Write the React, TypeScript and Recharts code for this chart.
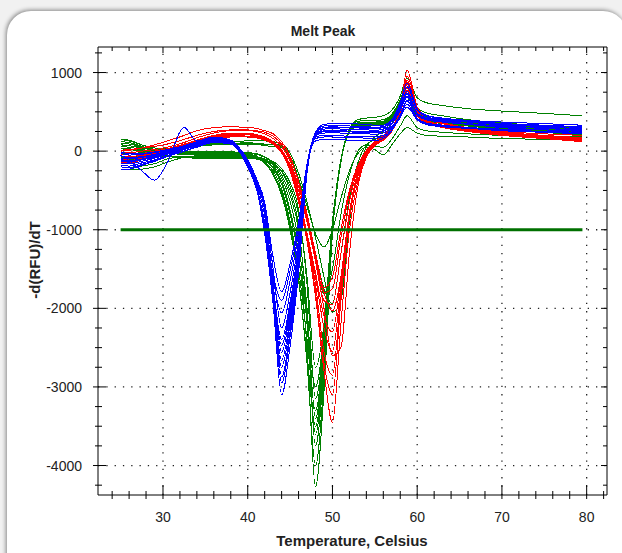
import React from 'react';
import { LineChart, Line, XAxis, YAxis, ReferenceLine } from 'recharts';

const TEMPS = [25, 26, 27.5, 29, 30.5, 32.5, 34, 36, 38, 40, 41, 42, 43, 44, 45, 46, 47, 48, 49, 50, 51, 52, 53, 54, 55, 56, 57, 58, 58.8, 60, 61, 63, 66, 70, 75, 79.5];

const BLUE_CURVES = [
  [-120, -130, -100, -60, -20, 40, 90, 150, 110, -200, -460, -1050, -1950, -3100, -2480, -1550, -280, 230, 320, 330, 330, 320, 310, 305, 300, 310, 390, 560, 760, 470, 420, 400, 370, 330, 290, 260],
  [-60, -80, -70, -40, 0, 60, 110, 170, 130, -160, -430, -1030, -1900, -2950, -2360, -1470, -260, 200, 280, 290, 280, 275, 270, 270, 265, 280, 380, 600, 820, 520, 450, 420, 390, 350, 320, 300],
  [-200, -210, -170, -120, -60, 20, 80, 140, 120, -130, -380, -750, -1700, -2870, -2300, -1430, -250, 240, 340, 350, 355, 350, 345, 340, 330, 330, 400, 540, 700, 480, 430, 410, 390, 370, 350, 330],
  [-30, -50, -40, -20, 10, 60, 100, 160, 110, -190, -450, -1010, -1850, -2750, -2200, -1380, -240, 180, 200, 200, 195, 190, 190, 185, 185, 200, 290, 460, 650, 420, 360, 330, 300, 270, 240, 220],
  [-150, -160, -130, -90, -40, 20, 70, 130, 100, -180, -440, -1000, -1820, -2660, -2130, -1330, -230, 220, 300, 310, 305, 300, 300, 295, 290, 300, 400, 620, 870, 540, 460, 420, 380, 340, 310, 280],
  [-90, -100, -80, -50, -10, 50, 100, 150, 120, -140, -400, -820, -1700, -2560, -2050, -1280, -220, 200, 250, 255, 250, 245, 240, 240, 235, 250, 340, 520, 720, 460, 400, 370, 340, 300, 270, 250],
  [-240, -230, -180, -130, -70, 0, 60, 120, 90, -200, -470, -980, -1760, -2470, -1980, -1240, -210, 160, 180, 180, 175, 170, 170, 165, 165, 180, 270, 430, 600, 400, 340, 310, 290, 260, 240, 230],
  [-10, -30, -30, -10, 20, 70, 120, 180, 140, -150, -420, -970, -1730, -2400, -1920, -1200, -200, 230, 320, 330, 325, 320, 315, 310, 305, 310, 390, 530, 680, 470, 420, 390, 370, 350, 330, 310],
  [-110, -120, -100, -70, -30, 30, 80, 140, 110, -120, -360, -700, -1500, -2250, -1800, -1130, -190, 210, 260, 265, 260, 255, 250, 250, 245, 260, 350, 540, 740, 480, 410, 380, 350, 310, 290, 270],
  [-180, -190, -150, -110, -60, 0, 50, 110, 90, -190, -460, -930, -1630, -2060, -1650, -1030, -180, 130, 150, 150, 145, 140, 140, 135, 135, 160, 260, 440, 640, 400, 340, 310, 290, 270, 250, 240],
  [-50, -120, -250, -370, -150, 300, 130, 160, 120, -170, -440, -910, -1580, -1900, -1520, -950, -170, 200, 230, 235, 230, 225, 220, 220, 215, 230, 310, 440, 560, 400, 350, 320, 300, 280, 270, 260],
  [-130, -140, -110, -80, -40, 20, 80, 140, 110, -110, -340, -650, -1350, -1790, -1430, -900, -160, 230, 300, 305, 300, 300, 295, 290, 285, 300, 380, 530, 700, 470, 410, 380, 350, 320, 300, 290],
];

const GREEN_CURVES = [
  [150, 140, 80, 20, -10, -20, -20, -20, -20, -30, -40, -80, -150, -250, -450, -800, -1600, -2750, -2200, -890, -100, 280, 400, 420, 430, 450, 520, 700, 930, 680, 620, 580, 540, 510, 480, 450],
  [100, 90, 50, 0, -20, -30, -40, -40, -40, -50, -70, -120, -220, -420, -800, -1350, -2150, -3000, -2300, -900, -100, 270, 360, 370, 370, 380, 450, 620, 800, 520, 460, 420, 380, 340, 300, 270],
  [-200, -210, -190, -160, -100, -70, -70, -70, -70, -70, -80, -100, -130, -220, -400, -750, -1700, -3150, -2400, -920, -110, 250, 330, 340, 340, 350, 420, 580, 720, 460, 400, 360, 320, 280, 240, 210],
  [30, 20, 0, -20, -30, -40, -50, -50, -50, -60, -80, -140, -250, -480, -900, -1500, -2400, -3300, -2450, -940, -110, 260, 350, 360, 360, 370, 440, 610, 780, 500, 440, 400, 360, 320, 280, 250],
  [-100, -110, -80, -60, -70, -80, -90, -90, -90, -90, -100, -120, -160, -300, -560, -1000, -2000, -3400, -2500, -960, -120, 240, 320, 330, 330, 340, 410, 570, 700, 460, 400, 360, 320, 280, 240, 200],
  [60, 50, 20, 0, -10, -20, -30, -30, -30, -40, -60, -150, -300, -560, -1000, -1650, -2600, -3500, -2600, -980, -120, 270, 380, 390, 390, 400, 470, 650, 860, 560, 490, 450, 400, 360, 320, 290],
  [-230, -240, -230, -200, -140, -80, -60, -60, -60, -60, -70, -100, -180, -340, -640, -1150, -2200, -3600, -2650, -990, -120, 250, 340, 350, 350, 360, 430, 590, 740, 480, 420, 380, 340, 300, 260, 230],
  [120, 110, 60, 10, -10, -10, -10, -10, -10, -20, -30, -70, -140, -260, -500, -950, -2100, -3750, -2750, -1000, -130, 260, 360, 370, 370, 380, 450, 600, 760, 490, 430, 390, 350, 310, 280, 260],
  [-60, -70, -60, -50, -60, -70, -80, -80, -80, -80, -90, -150, -280, -520, -950, -1600, -2700, -4000, -2900, -1020, -130, 250, 340, 350, 350, 360, 430, 590, 720, 470, 410, 370, 330, 290, 250, 220],
  [40, 30, 10, -10, -30, -40, -50, -50, -50, -50, -70, -110, -200, -380, -750, -1300, -2500, -4270, -3050, -1050, -140, 240, 330, 340, 340, 350, 410, 560, 680, 450, 390, 350, 320, 280, 240, 210],
  [80, 70, 40, 20, 30, 50, 70, 90, 100, 100, 90, 70, 60, 50, -100, -350, -700, -1050, -1220, -1000, -600, -250, -30, 50, 20, -50, 80, 220, 300, 230, 200, 190, 180, 160, 150, 130],
  [-20, -30, -20, 0, 20, 50, 80, 110, 120, 110, 100, 90, 80, 60, -80, -400, -850, -1400, -1820, -1500, -800, -300, 0, 80, 60, 50, 150, 320, 450, 300, 260, 240, 220, 200, 190, 180],
  [150, 130, 80, 40, 30, 40, 60, 80, 90, 90, 90, 90, 90, 70, -60, -350, -800, -1300, -1750, -1940, -1300, -600, -150, 80, 150, 200, 300, 500, 700, 420, 360, 330, 300, 280, 260, 250],
  [-80, -90, -60, -30, 0, 30, 60, 100, 120, 130, 130, 130, 120, 100, -30, -280, -650, -1100, -1600, -2050, -1900, -900, -250, 50, 180, 250, 350, 550, 800, 460, 400, 360, 330, 300, 280, 260],
];

const RED_CURVES = [
  [-100, -100, -70, -40, 0, 60, 120, 180, 200, 190, 170, 140, 90, -20, -250, -650, -1150, -1850, -2800, -3450, -2200, -1000, -380, -60, 80, 150, 260, 520, 1030, 560, 430, 360, 300, 250, 220, 200],
  [-40, -50, -30, 0, 30, 90, 140, 200, 220, 210, 190, 160, 110, 10, -200, -600, -1100, -1800, -2700, -3100, -1900, -850, -320, -40, 90, 160, 270, 480, 800, 480, 380, 320, 270, 220, 180, 150],
  [-140, -150, -110, -60, -10, 60, 130, 200, 230, 230, 210, 180, 120, 20, -180, -560, -1050, -1700, -2550, -2850, -1800, -800, -300, -30, 100, 170, 280, 500, 860, 500, 400, 330, 280, 230, 190, 160],
  [0, 10, 40, 80, 130, 200, 260, 300, 310, 300, 290, 260, 220, 120, -60, -400, -850, -1400, -2000, -2600, -2500, -1300, -450, -80, 70, 140, 250, 470, 780, 460, 360, 300, 250, 200, 160, 120],
  [-60, -70, -50, -20, 20, 80, 140, 200, 230, 220, 200, 170, 110, 0, -220, -600, -1050, -1600, -2250, -2550, -1700, -800, -280, -20, 100, 170, 270, 490, 820, 470, 370, 310, 260, 210, 170, 140],
  [-120, -120, -90, -50, -10, 50, 110, 170, 190, 190, 180, 150, 90, -20, -250, -620, -1050, -1550, -2100, -2300, -1600, -780, -260, 0, 110, 180, 280, 500, 850, 490, 390, 320, 270, 220, 180, 150],
  [-20, -20, 0, 20, 50, 110, 170, 230, 260, 260, 250, 220, 160, 60, -120, -450, -850, -1300, -1800, -2030, -1600, -850, -300, -20, 100, 170, 270, 480, 760, 450, 360, 300, 250, 200, 160, 130],
  [-90, -90, -60, -30, 10, 70, 130, 190, 210, 210, 200, 170, 110, 10, -180, -500, -900, -1400, -1900, -1950, -1300, -650, -220, 10, 120, 190, 290, 510, 900, 520, 400, 330, 280, 230, 190, 160],
  [-150, -140, -100, -60, -20, 40, 100, 160, 180, 180, 170, 150, 100, 0, -170, -450, -850, -1350, -1800, -1750, -1100, -550, -200, 0, 110, 180, 280, 500, 880, 500, 390, 320, 270, 220, 170, 130],
  [10, 20, 40, 60, 90, 150, 200, 250, 270, 270, 260, 240, 190, 90, -80, -380, -800, -1300, -1740, -1600, -1000, -500, -180, 10, 120, 200, 300, 520, 950, 560, 430, 350, 290, 240, 200, 170],
];

const THRESHOLD = -1000;
const X_MAJOR = [30, 40, 50, 60, 70, 80];
const X_TICKS = [24, 26, 28, 30, 32, 34, 36, 38, 40, 42, 44, 46, 48, 50, 52, 54, 56, 58, 60, 62, 64, 66, 68, 70, 72, 74, 76, 78, 80, 82];
const Y_MAJOR = [-4000, -3000, -2000, -1000, 0, 1000];
const Y_TICKS = [-4250, -4000, -3750, -3500, -3250, -3000, -2750, -2500, -2250, -2000, -1750, -1500, -1250, -1000, -750, -500, -250, 0, 250, 500, 750, 1000, 1250];
const X_DOMAIN: [number, number] = [22.33, 82.4];
const Y_DOMAIN: [number, number] = [-4375, 1325];

const rows = TEMPS.map((t, i) => {
  const r: Record<string, number> = { t, th: THRESHOLD };
  GREEN_CURVES.forEach((c, j) => { r['g' + j] = c[i]; });
  RED_CURVES.forEach((c, j) => { r['r' + j] = c[i]; });
  BLUE_CURVES.forEach((c, j) => { r['b' + j] = c[i]; });
  return r;
});

const FONT = '"Liberation Sans", Arial, sans-serif';
const GREEN = '#008000';

const BottomTick = (p: any) => {
  const v = p.payload.value;
  const major = X_MAJOR.includes(v);
  return (
    <g>
      <line x1={p.x} x2={p.x} y1={p.y - (major ? 10 : 4)} y2={p.y + 4} stroke="#000" />
      {major && (
        <text x={p.x} y={p.y + 27} textAnchor="middle" fontSize={14} fontFamily={FONT} fill="#222">{v}</text>
      )}
    </g>
  );
};
const TopTick = (p: any) => {
  const v = p.payload.value;
  const major = X_MAJOR.includes(v);
  return <line x1={p.x} x2={p.x} y1={p.y} y2={p.y + (major ? 6 : 4)} stroke="#000" />;
};
const LeftTick = (p: any) => {
  const v = p.payload.value;
  const major = Y_MAJOR.includes(v);
  return (
    <g>
      <line x1={p.x - (major ? 5 : 3)} x2={p.x + (major ? 8 : 4)} y1={p.y} y2={p.y} stroke="#000" />
      {major && (
        <text x={p.x - 16} y={p.y + 5} textAnchor="end" fontSize={14} fontFamily={FONT} fill="#222">{v}</text>
      )}
    </g>
  );
};
const RightTick = (p: any) => {
  const v = p.payload.value;
  const major = Y_MAJOR.includes(v);
  return <line x1={p.x - (major ? 6 : 4)} x2={p.x} y1={p.y} y2={p.y} stroke="#000" />;
};

export default function App() {
  return (
    <div style={{ position: 'absolute', left: 0, top: 0, width: 622, height: 553, overflow: 'hidden', background: '#f1f1f1' }}>
      <div style={{ position: 'absolute', left: 7, top: 11, width: 620, height: 600, background: '#fff', borderRadius: 24, boxShadow: '-1px -1px 4px rgba(0,0,0,0.45)' }} />
      <div style={{ position: 'absolute', left: 0, top: 0 }}>
        <LineChart width={622} height={553} data={rows} margin={{ top: 0, right: 0, bottom: 0, left: 0 }}>
          <XAxis dataKey="t" type="number" domain={X_DOMAIN} ticks={X_TICKS} allowDataOverflow height={58}
            tickLine={false} tickSize={0} tickMargin={0} tick={<BottomTick />} axisLine={{ stroke: '#000' }} interval={0} />
          <XAxis xAxisId="top" orientation="top" dataKey="t" type="number" domain={X_DOMAIN} ticks={X_TICKS} allowDataOverflow height={47}
            tickLine={false} tickSize={0} tickMargin={0} tick={<TopTick />} axisLine={{ stroke: '#000' }} interval={0} />
          <YAxis type="number" domain={Y_DOMAIN} ticks={Y_TICKS} allowDataOverflow width={98}
            tickLine={false} tickSize={0} tickMargin={0} tick={<LeftTick />} axisLine={{ stroke: '#000' }} interval={0} />
          <YAxis yAxisId="right" orientation="right" type="number" domain={Y_DOMAIN} ticks={Y_TICKS} allowDataOverflow width={15}
            tickLine={false} tickSize={0} tickMargin={0} tick={<RightTick />} axisLine={{ stroke: '#000' }} interval={0} />
          {X_MAJOR.map((v) => (
            <ReferenceLine key={'vx' + v} x={v} stroke="#222" strokeWidth={1.3} strokeDasharray="1.3 7" />
          ))}
          {Y_MAJOR.map((v) => (
            <ReferenceLine key={'hy' + v} y={v} stroke="#222" strokeWidth={1.3} strokeDasharray="1.3 7" />
          ))}
          {GREEN_CURVES.map((_, j) => (
            <Line key={'g' + j} type="monotone" dataKey={'g' + j} stroke={GREEN} strokeWidth={1} dot={false} isAnimationActive={false} shapeRendering="crispEdges" />
          ))}
          {RED_CURVES.map((_, j) => (
            <Line key={'r' + j} type="monotone" dataKey={'r' + j} stroke="#ff0000" strokeWidth={1} dot={false} isAnimationActive={false} shapeRendering="crispEdges" />
          ))}
          {BLUE_CURVES.map((_, j) => (
            <Line key={'b' + j} type="monotone" dataKey={'b' + j} stroke="#0000ff" strokeWidth={1} dot={false} isAnimationActive={false} shapeRendering="crispEdges" />
          ))}
          <Line type="linear" dataKey="th" stroke="#007000" strokeWidth={3} dot={false} isAnimationActive={false} />
        </LineChart>
      </div>
      <svg width={622} height={553} style={{ position: 'absolute', left: 0, top: 0, pointerEvents: 'none' }}>
        <text x={323} y={36} textAnchor="middle" fontSize={14} fontWeight="bold" fontFamily={FONT} fill="#222">Melt Peak</text>
        <text x={352} y={546} textAnchor="middle" fontSize={15} fontWeight="bold" fontFamily={FONT} fill="#222">Temperature, Celsius</text>
        <text x={34} y={260} transform="rotate(-90 34 260)" textAnchor="middle" dominantBaseline="central" fontSize={15} fontWeight="bold" fontFamily={FONT} fill="#222">-d(RFU)/dT</text>
      </svg>
    </div>
  );
}
